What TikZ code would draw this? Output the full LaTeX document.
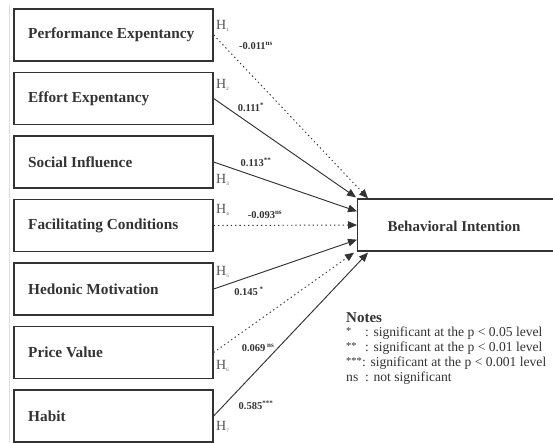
\documentclass[tikz,border=0pt]{standalone}
\usepackage{fontspec}
\setmainfont{Liberation Serif}
\usetikzlibrary{arrows.meta,calc}
\definecolor{ink}{HTML}{333333}
\definecolor{hgray}{HTML}{555555}
\newcommand{\supx}[1]{\textsuperscript{\fontsize{7}{8}\selectfont #1}}
\begin{document}
\begin{tikzpicture}[x=1pt,y=-1pt,
  box/.style={draw=ink,line width=1.3pt,minimum width=199pt,minimum height=52pt,inner sep=0pt},
  boxtext/.style={anchor=west,text=ink,font=\fontsize{15.3}{17}\selectfont\bfseries,inner sep=0pt},
  path/.style={draw=ink,line width=0.95pt,-{Triangle[length=9pt,width=7.5pt]}},
  dotpath/.style={path,dash pattern=on 1.3pt off 3pt},
  hlab/.style={anchor=west,text=hgray,font=\fontsize{14}{16}\selectfont,inner sep=0pt},
  coef/.style={text=ink,font=\fontsize{10.5}{12}\selectfont\bfseries,inner sep=0pt},
  note/.style={anchor=west,text=ink,font=\fontsize{13.6}{15}\selectfont,inner sep=0pt},
  star/.style={anchor=west,text=ink,font=\fontsize{10.5}{12}\selectfont,inner sep=0pt}]
\useasboundingbox (0,0) rectangle (553,442);
\draw[gray!25,line width=1pt] (9,5) -- (9,442);
% left boxes
\foreach \n/\y/\t in {b1/35/Performance Expentancy,b2/98.5/Effort Expentancy,b3/162/Social Influence,b4/225.5/Facilitating Conditions,b5/289/Hedonic Motivation,b6/352.5/Price Value,b7/416/Habit}{
  \node[box] (\n) at (113.5,\y) {};
  \node[boxtext] at (28,\y) {\t};
}
% target
\node[draw=ink,line width=1.3pt,minimum width=215pt,minimum height=52pt,inner sep=0pt,anchor=west] (bi) at (357,225) {};
\node[text=ink,font=\fontsize{15}{17}\selectfont\bfseries,inner sep=0pt] (bit) at (454,226) {Behavioral Intention};
% end points on the target
\coordinate (t1) at ($(bi.north west)+(11,0)$);
\coordinate (t2) at ($(bi.north west)+(-1,-1)$);
\coordinate (t3) at ($(bi.north west)+(0,13)$);
\coordinate (t4) at ($(bi.west)+(0,0)$);
\coordinate (t5) at ($(bi.south west)+(0,-12)$);
\coordinate (t6) at ($(bi.south west)+(-3,1)$);
\coordinate (t7) at ($(bi.south west)+(11,1)$);
% connectors
\draw[dotpath] (b1.east) -- (t1);
\draw[path] (b2.east) -- (t2);
\draw[path] (b3.east) -- (t3);
\draw[dotpath] (b4.east) -- (t4);
\draw[path] (b5.east) -- (t5);
\draw[dotpath] (b6.east) -- (t6);
\draw[path] (b7.east) -- (t7);
% hypothesis labels
\node[hlab] (h1) at (216,26) {H\textsubscript{\tiny 1}};
\node[hlab] (h2) at (216,85) {H\textsubscript{\tiny 2}};
\node[hlab] (h3) at (216,180) {H\textsubscript{\tiny 3}};
\node[hlab] (h4) at (216,210) {H\textsubscript{\tiny 4}};
\node[hlab] (h5) at (216,272) {H\textsubscript{\tiny 5}};
\node[hlab] (h6) at (216,366) {H\textsubscript{\tiny 6}};
\node[hlab] (h7) at (216,427) {H\textsubscript{\tiny 7}};
% coefficients
\node[coef] (c1) at (256,46) {-0.011\supx{ns}};
\node[coef] (c2) at (251,107) {0.111\supx{*}};
\node[coef] (c3) at (256,162) {0.113\supx{**}};
\node[coef] (c4) at (265,215) {-0.093\supx{ns}};
\node[coef] (c5) at (249,291) {0.145\,\supx{*}};
\node[coef] (c6) at (258,348) {0.069\,\supx{ns}};
\node[coef] (c7) at (256,405) {0.585\supx{***}};
% notes
\node[note,font=\fontsize{15}{16}\selectfont\bfseries] (nt) at (346,318) {Notes};
\node[star] (s1) at (346,331) {*};
\node[star] (s2) at (346,346) {**};
\node[star] (s3) at (346,361) {***};
\node[note] (s4) at (346,378) {ns};
\node[note] (d1) at (365,333) {: significant at the p {\textless} 0.05 level};
\node[note] (d2) at (365,348) {: significant at the p {\textless} 0.01 level};
\node[note] (d3) at (362,363) {: significant at the p {\textless} 0.001 level};
\node[note] (d4) at (365,378) {: not significant};
\end{tikzpicture}
\end{document}
